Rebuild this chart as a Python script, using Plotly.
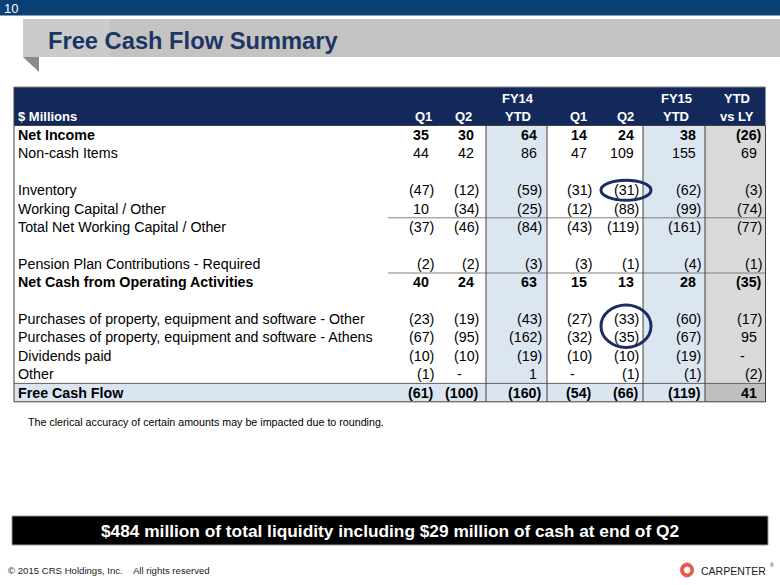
import plotly.graph_objects as go

# ---------------- data ----------------
page_number = "10"
title_text = "Free Cash Flow Summary"
unit_label = "$ Millions"
header_top = ["", "", "FY14", "", "", "FY15", "YTD"]
header_bottom = ["Q1", "Q2", "YTD", "Q1", "Q2", "YTD", "vs LY"]
row_labels = [
    "Net Income",
    "Non-cash Items",
    "",
    "Inventory",
    "Working Capital / Other",
    "Total Net Working Capital / Other",
    "",
    "Pension Plan Contributions - Required",
    "Net Cash from Operating Activities",
    "",
    "Purchases of property, equipment and software - Other",
    "Purchases of property, equipment and software - Athens",
    "Dividends paid",
    "Other",
    "Free Cash Flow",
]
bold_rows = [0, 8, 14]
fy14_q1 = [35, 44, None, -47, 10, -37, None, -2, 40, None, -23, -67, -10, -1, -61]
fy14_q2 = [30, 42, None, -12, -34, -46, None, -2, 24, None, -19, -95, -10, 0, -100]
fy14_ytd = [64, 86, None, -59, -25, -84, None, -3, 63, None, -43, -162, -19, 1, -160]
fy15_q1 = [14, 47, None, -31, -12, -43, None, -3, 15, None, -27, -32, -10, 0, -54]
fy15_q2 = [24, 109, None, -31, -88, -119, None, -1, 13, None, -33, -35, -10, -1, -66]
fy15_ytd = [38, 155, None, -62, -99, -161, None, -4, 28, None, -60, -67, -19, -1, -119]
ytd_vs_ly = [-26, 69, None, -3, -74, -77, None, -1, -35, None, -17, 95, 0, -2, 41]
columns = [fy14_q1, fy14_q2, fy14_ytd, fy15_q1, fy15_q2, fy15_ytd, ytd_vs_ly]
circled = [(4, [3]), (4, [10, 11])]  # (column index, rows)
footnote = "The clerical accuracy of certain amounts may be impacted due to rounding."
banner = "$484 million of total liquidity including $29 million of cash at end of Q2"
copyright_text = "© 2015 CRS Holdings, Inc.    All rights reserved"
brand = "CARPENTER"

# ---------------- layout geometry ----------------
W, H = 780, 585
FONT = "Liberation Sans, Arial, sans-serif"
NAVY = "#14295b"
col_right = [435, 480, 543, 593, 640, 702, 763]
col_head_x = [423, 463, 518, 578, 625, 676, 737]
row0_y = 135.0
pitch = 18.4
tbl_l, tbl_r = 14, 765.5
hdr_top, hdr_bot = 87, 125.5
tbl_bot = row0_y + pitch * (len(row_labels) - 0.5)


def ry(i):
    return row0_y + pitch * i


def fmt(v):
    if v is None:
        return ""
    if v == 0:
        return "-"
    if v < 0:
        return "(%d)" % (-v)
    return "%d" % v


shapes = []
annotations = []


def rect(x0, y0, x1, y1, fill, line=None, lw=0):
    shapes.append(dict(type="rect", xref="x", yref="y", x0=x0, y0=y0, x1=x1, y1=y1,
                       fillcolor=fill, line=dict(color=line or fill, width=lw),
                       layer="below"))


def hline(x0, x1, y, color="#7f7f7f", w=1):
    shapes.append(dict(type="line", xref="x", yref="y", x0=x0, x1=x1, y0=y, y1=y,
                       line=dict(color=color, width=w)))


def vline(x, y0, y1, color="#404040", w=1):
    shapes.append(dict(type="line", xref="x", yref="y", x0=x, x1=x, y0=y0, y1=y1,
                       line=dict(color=color, width=w)))


def text(x, y, s, size, color="black", bold=False, xanchor="left", yanchor="middle", family=FONT):
    annotations.append(dict(x=x, y=y, xref="x", yref="y", text=("<b>%s</b>" % s) if bold else s,
                            showarrow=False, xanchor=xanchor, yanchor=yanchor,
                            font=dict(family=family, size=size, color=color),
                            borderpad=0))


# top bar
rect(0, 0, W, 15.5, "#0b4075")
text(3, 8, page_number, 13, "white")

# title banner
rect(23, 19, W, 57, "#c3c3c1")
rect(23, 19, 110, 57, "#cbcbc9")
shapes.append(dict(type="path", xref="x", yref="y", path="M 23 57 L 39 57 L 39 72 Z",
                   fillcolor="#8c8c8a", line=dict(width=0), layer="below"))
text(47, 41, title_text, 23.7, "#1c3566", bold=True)

# table backgrounds
rect(tbl_l, hdr_top, tbl_r, hdr_bot, NAVY)
rect(486, hdr_bot, 547, tbl_bot, "#dce6f1")
rect(643, hdr_bot, 705, tbl_bot, "#dce6f1")
rect(705, hdr_bot, tbl_r, tbl_bot, "#d9d9d9")
fcf_top = ry(14) - pitch / 2
rect(tbl_l, fcf_top, 705, tbl_bot, "#dbe5f1")
rect(705, fcf_top, tbl_r, tbl_bot, "#bfbfbf")

# table lines
hline(tbl_l, tbl_r, hdr_top, "#808080", 1)
hline(tbl_l, tbl_r, hdr_bot, "#404040", 1)
hline(388, tbl_r, ry(4) + pitch / 2)
hline(388, tbl_r, ry(7) + pitch / 2)
hline(tbl_l, tbl_r, fcf_top, "#606060")
hline(tbl_l, tbl_r, tbl_bot, "#404040")
vline(tbl_l, hdr_top, tbl_bot)
for xv in [486, 547, 643, 705, tbl_r]:
    vline(xv, hdr_bot, tbl_bot)

# header texts
text(17, 116, unit_label, 13, "white", bold=True)
for j in range(len(header_bottom)):
    if header_top[j]:
        text(col_head_x[j], 98, header_top[j], 13, "white", bold=True, xanchor="center")
    text(col_head_x[j], 116, header_bottom[j], 13, "white", bold=True, xanchor="center")

# body texts
for i, lab in enumerate(row_labels):
    b = i in bold_rows
    if lab:
        text(17, ry(i), lab, 14.25, bold=b)
    for j, col in enumerate(columns):
        v = col[i]
        s = fmt(v)
        if not s:
            continue
        if v < 0:
            xr = col_right[j]
        elif v == 0:
            xr = col_right[j] - 17
        else:
            xr = col_right[j] - 5
        text(xr, ry(i), s, 14.25, bold=b, xanchor="right")

# circles
for cj, rows in circled:
    cx = col_right[cj] - 14
    y0 = ry(min(rows)) - 10 if len(rows) == 1 else ry(min(rows)) - 14
    y1 = ry(max(rows)) + 10 if len(rows) == 1 else ry(max(rows)) + 10
    shapes.append(dict(type="circle", xref="x", yref="y", x0=cx - 25, x1=cx + 25, y0=y0, y1=y1,
                       line=dict(color="#1b2d63", width=3)))

# footnote
text(27, 422, footnote, 10.7)

# liquidity banner
rect(12, 516, 768, 545, "black", "#9a9a9a", 1)
text(390, 530.5, banner, 17.3, "white", bold=True, xanchor="center")

# footer
text(7, 570, copyright_text, 9.6, "#222222")
shapes.append(dict(type="circle", xref="x", yref="y", x0=680.5, x1=693.5, y0=563, y1=577,
                   fillcolor="#e9594d", line=dict(color="#e9594d", width=1)))
shapes.append(dict(type="circle", xref="x", yref="y", x0=684.5, x1=690, y0=567, y1=573,
                   fillcolor="white", line=dict(color="white", width=1)))
text(700, 571, brand, 10.5, "#1a1a1a")
text(769, 565, "®", 5, "#1a1a1a")

fig = go.Figure()
fig.update_layout(
    width=W, height=H,
    margin=dict(l=0, r=0, t=0, b=0),
    paper_bgcolor="white", plot_bgcolor="white",
    xaxis=dict(range=[0, W], visible=False, fixedrange=True),
    yaxis=dict(range=[H, 0], visible=False, fixedrange=True),
    shapes=shapes, annotations=annotations, showlegend=False,
)
fig.write_html("out.html", config={"displayModeBar": False},
               post_script="document.body.style.margin='0';document.body.style.overflow='hidden';")
